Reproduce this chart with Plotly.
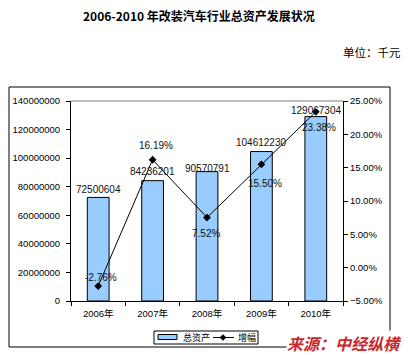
import plotly.graph_objects as go

# ---- data ----
years = ["2006年", "2007年", "2008年", "2009年", "2010年"]
total_assets = [72500604, 84236201, 90570791, 104612230, 129067304]
growth_pct = [-2.76, 16.19, 7.52, 15.50, 23.38]
series_names = ["总资产", "增幅"]

left_ticks = [0, 20000000, 40000000, 60000000, 80000000, 100000000, 120000000, 140000000]
right_ticks = [-0.05, 0.0, 0.05, 0.10, 0.15, 0.20, 0.25]

# ---- label placement (style only, pixels) ----
bar_label_yshift = [8, 9.5, 3, 9.5, 6.5]
pct_label_shift = [(3, 9), (3, 14.5), (-1, -15.5), (4, -19), (3.5, -16)]

NUM_FONT = "Liberation Sans, Arial, Noto Sans CJK SC"
CJK_FONT = "Noto Sans CJK SC, Liberation Sans"

W, H = 408, 355
L, R, T, B = 71, 343, 101, 301
BAR_COLOR = "#99CCFF"

growth = [g / 100 for g in growth_pct]

fig = go.Figure()
fig.add_trace(go.Bar(
    x=years, y=total_assets, name=series_names[0], width=0.4,
    marker=dict(color=BAR_COLOR, line=dict(color="black", width=1)),
    yaxis="y",
))
fig.add_trace(go.Scatter(
    x=years, y=growth, name=series_names[1], mode="lines+markers",
    line=dict(color="black", width=1),
    marker=dict(symbol="diamond", size=6, color="black"),
    yaxis="y2",
))

ann = []
for i, (yr, v) in enumerate(zip(years, total_assets)):
    ann.append(dict(x=yr, y=v, xref="x", yref="y", text=str(v), showarrow=False,
                    yanchor="middle", yshift=bar_label_yshift[i],
                    font=dict(family=NUM_FONT, size=10, color="#111")))
for i, (yr, g, gp) in enumerate(zip(years, growth, growth_pct)):
    dx, dy = pct_label_shift[i]
    ann.append(dict(x=yr, y=g, xref="x", yref="y2", text=f"{gp:.2f}%", showarrow=False,
                    yanchor="middle", xshift=dx, yshift=dy,
                    font=dict(family=NUM_FONT, size=10, color="#111")))

def px_x(p):
    return (p - L) / (R - L)

def px_y(p):
    return (B - p) / (B - T)

ann.append(dict(xref="paper", yref="paper", x=px_x(199), y=px_y(15),
                text="<b>2006-2010 年改装汽车行业总资产发展状况</b>", showarrow=False,
                xanchor="center", yanchor="middle",
                font=dict(family=CJK_FONT, size=12, color="black")))
ann.append(dict(xref="paper", yref="paper", x=px_x(403), y=px_y(52),
                text="单位：千元", showarrow=False, xanchor="right", yanchor="middle",
                font=dict(family=CJK_FONT, size=11.5, color="black")))

# legend (drawn manually to match the compact box)
ann.append(dict(xref="paper", yref="paper", x=px_x(181), y=px_y(337.5),
                text=series_names[0], showarrow=False, xanchor="left", yanchor="middle",
                font=dict(family=CJK_FONT, size=9, color="black")))
ann.append(dict(xref="paper", yref="paper", x=px_x(236), y=px_y(337.5),
                text=series_names[1], showarrow=False, xanchor="left", yanchor="middle",
                font=dict(family=CJK_FONT, size=9, color="black")))

ann.append(dict(xref="paper", yref="paper", x=px_x(403), y=px_y(342.5),
                text="<b><i>来源：中经纵横</i></b>", showarrow=False, xanchor="right", yanchor="middle",
                bgcolor="white", borderpad=0,
                font=dict(family=CJK_FONT, size=16, color="#C8282D")))

mx, my = px_x(223), px_y(337.5)
dxp, dyp = 3 / (R - L), 3 / (B - T)
shapes = [
    dict(type="rect", xref="paper", yref="paper", x0=px_x(9), x1=px_x(390), y0=px_y(347), y1=px_y(87),
         line=dict(color="black", width=1), layer="below"),
    dict(type="line", xref="paper", yref="paper", x0=0, x1=1, y0=1, y1=1,
         line=dict(color="#808080", width=1)),
    # legend box
    dict(type="rect", xref="paper", yref="paper", x0=px_x(154), x1=px_x(258), y0=px_y(344), y1=px_y(331),
         line=dict(color="black", width=1), fillcolor="white"),
    dict(type="rect", xref="paper", yref="paper", x0=px_x(158), x1=px_x(177), y0=px_y(339.5), y1=px_y(334.5),
         line=dict(color="black", width=1), fillcolor=BAR_COLOR),
    dict(type="line", xref="paper", yref="paper", x0=px_x(213), x1=px_x(234), y0=my, y1=my,
         line=dict(color="black", width=1)),
    dict(type="path", xref="paper", yref="paper",
         path=f"M {mx-dxp} {my} L {mx} {my+dyp} L {mx+dxp} {my} L {mx} {my-dyp} Z",
         line=dict(color="black", width=0.5), fillcolor="black"),
]

fig.update_layout(
    width=W, height=H,
    margin=dict(l=L, r=W - R, t=T, b=H - B, pad=0, autoexpand=False),
    paper_bgcolor="white", plot_bgcolor="white",
    showlegend=False,
    xaxis=dict(type="category", showline=True, linecolor="black", linewidth=1, automargin=False,
               ticks="outside", tickson="boundaries", ticklen=4, tickcolor="black",
               ticklabelstandoff=4,
               tickfont=dict(family=NUM_FONT, size=9.5, color="black"), showgrid=False),
    yaxis=dict(range=[0, 140000000], tickvals=left_ticks, ticktext=[str(t) for t in left_ticks],
               showline=True, linecolor="black", linewidth=1, ticks="outside", ticklen=4,
               tickcolor="black", showgrid=False, zeroline=False, automargin=False,
               ticklabelstandoff=4,
               tickfont=dict(family=NUM_FONT, size=9.5, color="black")),
    yaxis2=dict(range=[-0.05, 0.25], tickvals=right_ticks, tickformat=".2%", overlaying="y", side="right",
                showline=True, linecolor="black", linewidth=1, ticks="outside", ticklen=4,
                tickcolor="black", showgrid=False, zeroline=False, automargin=False,
                tickfont=dict(family=NUM_FONT, size=9.5, color="black")),
    annotations=ann, shapes=shapes,
    bargap=0.6,
)

fig.write_html("out.html", config={"displayModeBar": False},
               post_script="document.body.style.margin='0';document.body.style.padding='0';")
